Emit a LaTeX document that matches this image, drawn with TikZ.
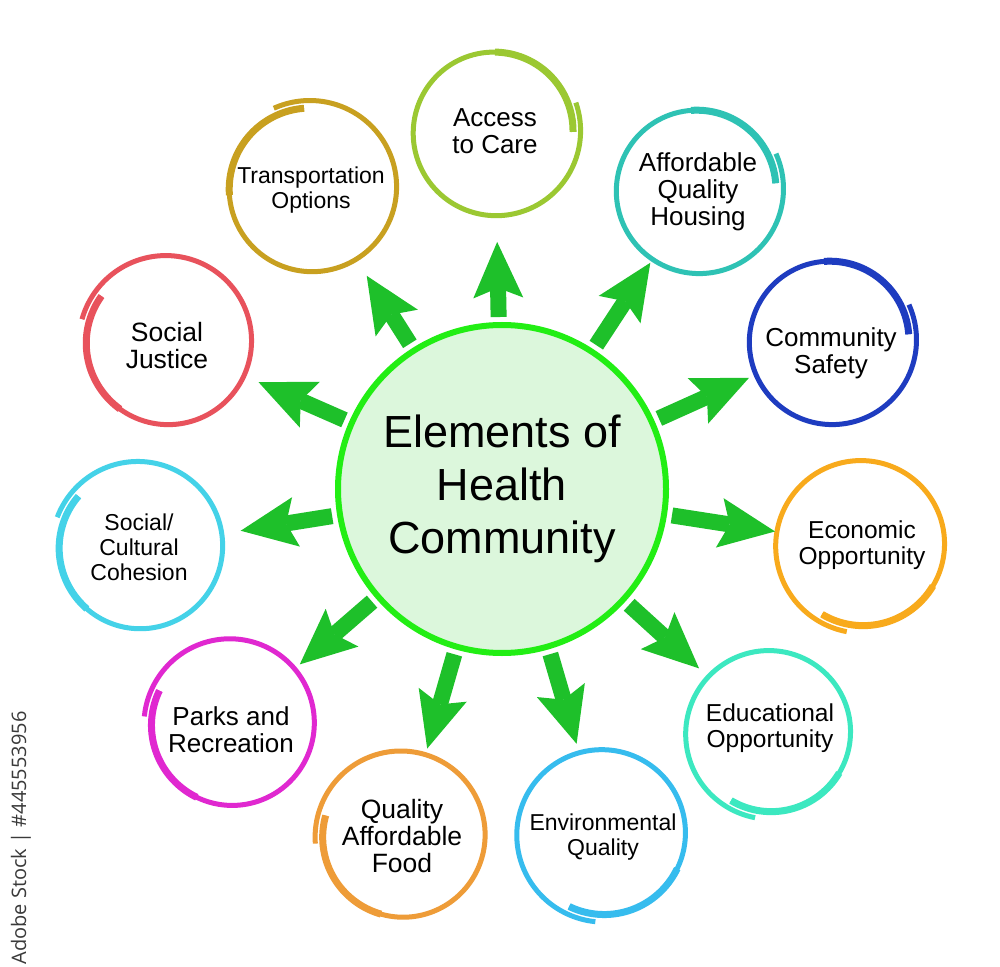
\documentclass[tikz,border=0pt]{standalone}
\usepackage{fontspec}
\setmainfont{Liberation Sans}
\newfontfamily\adobefont{Open Sans}
\usetikzlibrary{arrows.meta,calc}
\definecolor{arrowgreen}{HTML}{1EC02A}
\definecolor{centergreen}{HTML}{22EE14}
\definecolor{centerfill}{HTML}{DCF7DC}
\definecolor{cAccess}{HTML}{9BC832}
\definecolor{cHousing}{HTML}{2EC2B4}
\definecolor{cSafety}{HTML}{1E3CC0}
\definecolor{cEcon}{HTML}{F8AA1C}
\definecolor{cEduc}{HTML}{3CE8C0}
\definecolor{cEnv}{HTML}{36BCEE}
\definecolor{cFood}{HTML}{EE9C38}
\definecolor{cParks}{HTML}{E028D0}
\definecolor{cCohes}{HTML}{44D2E8}
\definecolor{cJustice}{HTML}{E8525C}
\definecolor{cTransp}{HTML}{C8A020}
\definecolor{adobegray}{HTML}{3A3A3A}
\tikzset{
  centre/.style={circle, minimum size=164pt, inner sep=0pt, draw=centergreen, line width=3pt, fill=centerfill, align=center, font=\fontsize{22.5pt}{26.5pt}\selectfont},
  ring/.style={circle, inner sep=0pt, outer sep=0pt},
  ringtext/.style={align=center, inner sep=0pt},
  flow/.style={draw=arrowgreen, line width=8pt, -{Stealth[length=28pt, width=25pt, inset=5pt, line width=0pt]}, shorten <=2.5pt},
}
\begin{document}
\begin{tikzpicture}[x=0.5pt,y=-0.5pt]
\useasboundingbox (0,0) rectangle (1000,967);
\fill[white] (0,0) rectangle (1000,967);
\node[centre] (c) at (502,489) {Elements of\\Health\\Community};
\foreach \n/\x/\y/\r/\col/\t/\fs/\bs/\dy/\txt in {
  access/495/132/82/cAccess/20/13/13.5/-1/{Access\\to Care},
  housing/698/190/82/cHousing/25/13/13.5/2/{Affordable\\Quality\\Housing},
  safety/831/341/82/cSafety/25/13/13.5/12/{Community\\Safety},
  econ/862/545/84/cEcon/-100/12.25/13/0/{Economic\\Opportunity},
  educ/770/733/82/cEduc/-100/12.25/13/-5/{Educational\\Opportunity},
  env/603/834/84/cEnv/-95/11.5/12.5/3/{Environmental\\Quality},
  food/402/836/83/cFood/185/13.25/13.5/0/{Quality\\Affordable\\Food},
  parks/231/724/83/cParks/175/13/13.5/6/{Parks and\\Recreation},
  cohes/139/547/83/cCohes/160/11.5/12.5/0/{Social/\\Cultural\\Cohesion},
  justice/167/342/84/cJustice/165/13.25/13.5/4/{Social\\Justice},
  transp/311/188/84/cTransp/115/11.5/12.5/2/{Transportation\\Options}} {
  \node[ring, minimum size=\r pt] (\n) at (\x,\y) {};
  \node[ringtext, font=\fontsize{\fs pt}{\bs pt}\selectfont] (t\n) at (\x,\y+\dy) {\txt};
  \begin{scope}[shift={(\n.center)}]
    \draw[\col, line width=2.5pt] plot[domain=0:380, samples=120, smooth, variable=\s]
      ({(\r+4-8*\s/380)*cos(\t-\s)}, {-(\r+4-8*\s/380)*sin(\t-\s)});
    \draw[\col, line width=3.5pt] plot[domain=290:380, samples=40, smooth, variable=\s]
      ({(\r+4-8*\s/380)*cos(\t-\s)}, {-(\r+4-8*\s/380)*sin(\t-\s)});
  \end{scope}
}
\foreach \n/\g in {access/28, housing/5, safety/8, econ/4, educ/14, env/10, food/8, parks/8, cohes/20, justice/16, transp/20} {
  \draw[flow, shorten >={\g*0.5pt}] (c) -- (\n);
}
\node[rotate=90, text=adobegray, font=\adobefont\fontsize{10pt}{11pt}\selectfont] (adobe) at (21,838) {Adobe Stock | \#445553956};
\end{tikzpicture}
\end{document}
